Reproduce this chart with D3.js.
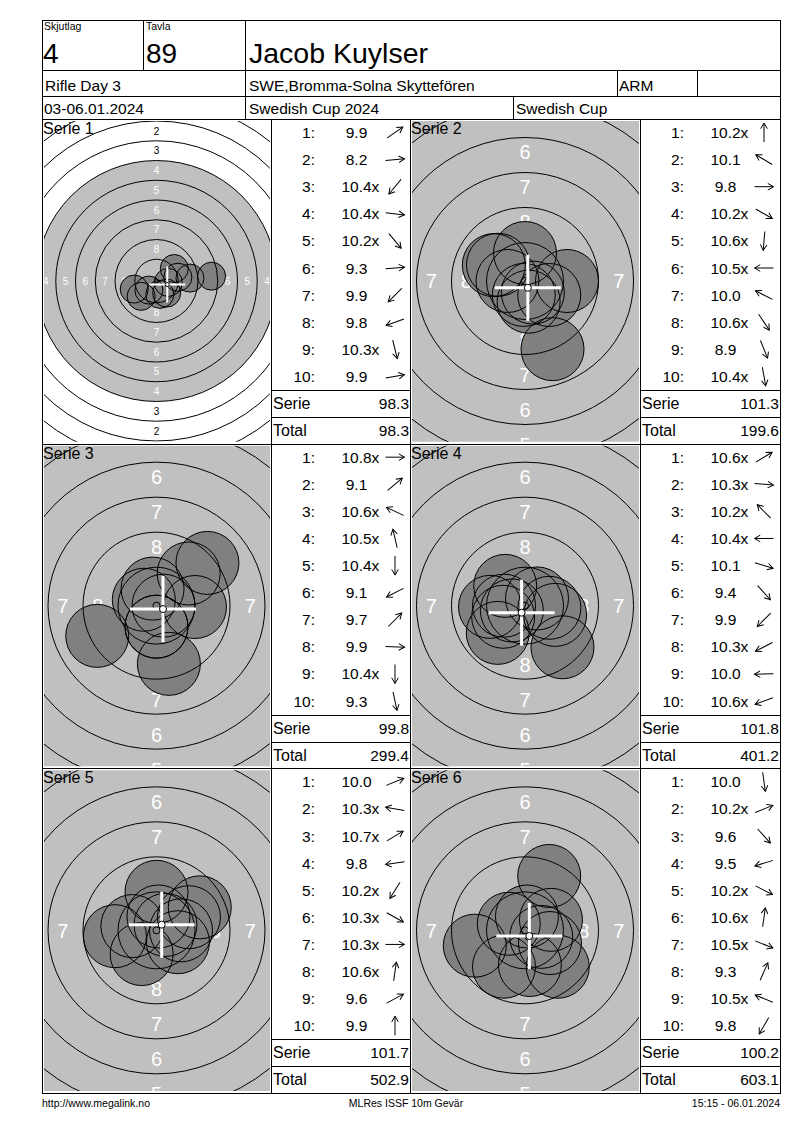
<!DOCTYPE html>
<html>
<head>
<meta charset="utf-8">
<script src="https://cdn.jsdelivr.net/npm/d3@7"></script>
<style>
  body { margin: 0; background: #fff; }
  svg { font-family: "Liberation Sans", Arial, sans-serif; }
</style>
</head>
<body>
<svg id="card" width="800" height="1130"></svg>
<script>
"use strict";

// header
var squad = "4";
var lane = "89";
var shooter = "Jacob Kuylser";
var eventName = "Rifle Day 3";
var club = "SWE,Bromma-Solna Skyttefören";
var classCode = "ARM";
var dates = "03-06.01.2024";
var competition = "Swedish Cup 2024";
var cupName = "Swedish Cup";
var footer = ["http://www.megalink.no", "MLRes ISSF 10m Gevär", "15:15 - 06.01.2024"];

var serieNames = ["Serie 1", "Serie 2", "Serie 3", "Serie 4", "Serie 5", "Serie 6"];

// decimal score of every shot
var shotScores = [
  [9.9, 8.2, 10.4, 10.4, 10.2, 9.3, 9.9, 9.8, 10.3, 9.9],
  [10.2, 10.1, 9.8, 10.2, 10.6, 10.5, 10.0, 10.6, 8.9, 10.4],
  [10.8, 9.1, 10.6, 10.5, 10.4, 9.1, 9.7, 9.9, 10.4, 9.3],
  [10.6, 10.3, 10.2, 10.4, 10.1, 9.4, 9.9, 10.3, 10.0, 10.6],
  [10.0, 10.3, 10.7, 9.8, 10.2, 10.3, 10.3, 10.6, 9.6, 9.9],
  [10.0, 10.2, 9.6, 9.5, 10.2, 10.6, 10.5, 9.3, 10.5, 9.8]
];

// direction of every hit, degrees clockwise from 12 o'clock
var shotDirs = [
  [55, 85, 220, 97, 140, 85, 225, 250, 166, 80],
  [0, 301, 90, 120, 185, 270, 297, 146, 158, 170],
  [90, 50, 295, 347, 180, 243, 45, 92, 180, 168],
  [59, 95, 315, 270, 107, 138, 225, 243, 268, 250],
  [68, 280, 59, 262, 212, 119, 90, 8, 62, 0],
  [172, 68, 138, 253, 117, 8, 112, 24, 292, 210]
];

var ringNumbers = [1, 2, 3, 4, 5, 6, 7, 8, 9, 10];
var labelRings = [1, 2, 3, 4, 5, 6, 7, 8];

var svg = d3.select('#card');
var INK = '#000';
var GREY = '#c0c0c0';
var HIT = '#808080';

// ISSF 10m rifle target, mm
function ringRadius(n) { return 0.25 + (10 - n) * 2.5; }
function hitDistance(score) { return Math.max(0, (11 - score) * 2.5); }

var top0 = 119, bottom0 = 1093, left0 = 42, right0 = 780;
var blockH = (bottom0 - top0) / 3;
var targetX = [42, 410], targetW = [229, 230];
var tableX = [271, 640], tableW = [139, 140];

var lines = svg.append('g').attr('stroke', INK).attr('stroke-width', 1).attr('shape-rendering', 'crispEdges');
function hline(x1, x2, y) { lines.append('line').attr('x1', x1).attr('x2', x2).attr('y1', Math.round(y) + 0.5).attr('y2', Math.round(y) + 0.5); }
function vline(x, y1, y2) { lines.append('line').attr('x1', x + 0.5).attr('x2', x + 0.5).attr('y1', y1).attr('y2', y2); }

function txt(g, x, y, s, size, anchor) {
  return g.append('text').attr('x', x).attr('y', y).attr('font-size', size)
    .attr('text-anchor', anchor || 'start').attr('fill', INK).text(s);
}

// ---- header ----
var head = svg.append('g');
txt(head, 44, 30, "Skjutlag", 10.5);
txt(head, 146, 30, "Tavla", 10.5);
txt(head, 43, 63, squad, 28);
txt(head, 146, 63, lane, 28);
txt(head, 249, 63, shooter, 28.5);
txt(head, 45, 91, eventName, 15.5);
txt(head, 249, 91, club, 15.5);
txt(head, 619, 91, classCode, 15.5);
txt(head, 44, 114, dates, 15.5);
txt(head, 249, 114, competition, 15.5);
txt(head, 516, 114, cupName, 15.5);

// ---- series ----
var defs = svg.append('defs');
var runningTotal = 0;

serieNames.forEach(function (name, i) {
  var row = Math.floor(i / 2), col = i % 2;
  var y0 = top0 + row * blockH;
  var bx = targetX[col], bw = targetW[col];
  var cx = bx + bw / 2, cy = y0 + 162;
  var overview = i === 0;
  var k = overview ? 7.9 : 14;         // px per mm
  var hitR = overview ? 14 : 31.5;
  var crossHalf = overview ? 18 : 33;

  var xS = d3.scaleLinear().domain([-30, 30]).range([cx - 30 * k, cx + 30 * k]);
  var yS = d3.scaleLinear().domain([-30, 30]).range([cy + 30 * k, cy - 30 * k]);
  var rS = d3.scaleLinear().domain([0, 30]).range([0, 30 * k]);

  defs.append('clipPath').attr('id', 'clip' + i)
    .append('rect').attr('x', bx + 2).attr('y', y0 + 2).attr('width', bw - 3).attr('height', blockH - 4);

  var tg = svg.append('g').attr('clip-path', 'url(#clip' + i + ')');

  tg.append('circle').attr('cx', xS(0)).attr('cy', yS(0)).attr('r', rS(ringRadius(4))).attr('fill', GREY);

  // ring numbers on four sides, only those that reach into the box
  var lab = [];
  labelRings.forEach(function (n) {
    var m = (ringRadius(n) + ringRadius(n + 1)) / 2 + (overview ? 0 : 0.2);
    [[0, m], [0, -m], [-m, 0], [m, 0]].forEach(function (p) { lab.push({n: n, x: p[0], y: p[1]}); });
  });
  lab = lab.filter(function (d) {
    var px = xS(d.x), py = yS(d.y);
    return px > bx && px < bx + bw && py > y0 && py < y0 + blockH + 5;
  });
  tg.selectAll('text.ring').data(lab).enter().append('text')
    .attr('class', 'ring')
    .attr('x', function (d) { return xS(d.x); })
    .attr('y', function (d) { return yS(d.y); })
    .attr('dy', '0.36em')
    .attr('text-anchor', 'middle')
    .attr('font-size', overview ? 10 : 20)
    .attr('fill', function (d) { return d.n >= 4 ? '#fff' : INK; })
    .text(function (d) { return d.n; });

  var hits = shotScores[i].map(function (s, j) {
    var d = hitDistance(s), a = shotDirs[i][j] * Math.PI / 180;
    return {x: d * Math.sin(a), y: d * Math.cos(a)};
  });

  tg.selectAll('circle.fill').data(hits).enter().append('circle')
    .attr('class', 'fill')
    .attr('cx', function (d) { return xS(d.x); })
    .attr('cy', function (d) { return yS(d.y); })
    .attr('r', hitR).attr('fill', HIT);

  tg.selectAll('circle.ringline').data(ringNumbers).enter().append('circle')
    .attr('class', 'ringline')
    .attr('cx', xS(0)).attr('cy', yS(0))
    .attr('r', function (n) { return rS(ringRadius(n)); })
    .attr('fill', 'none').attr('stroke', INK).attr('stroke-width', 1);

  tg.selectAll('circle.edge').data(hits).enter().append('circle')
    .attr('class', 'edge')
    .attr('cx', function (d) { return xS(d.x); })
    .attr('cy', function (d) { return yS(d.y); })
    .attr('r', hitR).attr('fill', 'none').attr('stroke', INK).attr('stroke-width', 1);

  // mean point of impact
  var mx = xS(d3.mean(hits, function (d) { return d.x; }));
  var my = yS(d3.mean(hits, function (d) { return d.y; }));
  var cw = overview ? 2 : 3;
  tg.append('line').attr('x1', mx - crossHalf).attr('x2', mx + crossHalf).attr('y1', my).attr('y2', my)
    .attr('stroke', '#fff').attr('stroke-width', cw);
  tg.append('line').attr('x1', mx).attr('x2', mx).attr('y1', my - crossHalf).attr('y2', my + crossHalf)
    .attr('stroke', '#fff').attr('stroke-width', cw);
  tg.append('circle').attr('cx', mx).attr('cy', my).attr('r', overview ? 2 : 3.5)
    .attr('fill', '#fff').attr('stroke', INK).attr('stroke-width', 1);

  txt(svg, bx + 1, y0 + 15, name, 16);

  // ---- score table ----
  var tx = tableX[col], tw = tableW[col];
  var rowH = 27.1;
  var tb = svg.append('g');
  shotScores[i].forEach(function (s, j) {
    var yc = y0 + 13.5 + rowH * j;
    var base = yc + 5.5;
    txt(tb, tx + 44, base, (j + 1) + ":", 15.5, 'end');
    var num = txt(tb, tx + 85.5, base, s.toFixed(1), 15.5, 'middle');
    if (s >= 10.2) {
      var w = num.node().getComputedTextLength();
      txt(tb, tx + 85.5 + w / 2, base, "x", 15.5);
    }
    var ar = tb.append('g')
      .attr('transform', 'translate(' + (tx + 124) + ',' + yc + ') rotate(' + shotDirs[i][j] + ')')
      .attr('stroke', INK).attr('stroke-width', 1).attr('fill', 'none');
    ar.append('line').attr('x1', 0).attr('y1', 9.5).attr('x2', 0).attr('y2', -9.5);
    ar.append('path').attr('d', 'M-3.3,-3.8L0,-9.5L3.3,-3.8');
  });
  var serieSum = d3.sum(shotScores[i]);
  runningTotal += serieSum;
  var ySerie = y0 + 10 * rowH;
  hline(tx, tx + tw, ySerie);
  hline(tx, tx + tw, ySerie + 27);
  txt(tb, tx + 2, ySerie + 19, "Serie", 16);
  txt(tb, tx + tw - 1, ySerie + 19, serieSum.toFixed(1), 15.5, 'end');
  txt(tb, tx + 2, ySerie + 46, "Total", 16);
  txt(tb, tx + tw - 1, ySerie + 46, runningTotal.toFixed(1), 15.5, 'end');
});

// ---- frame ----
lines.append('rect').attr('x', left0 + 0.5).attr('y', 20.5).attr('width', right0 - left0).attr('height', bottom0 - 20)
  .attr('fill', 'none');
hline(left0, right0, 70);
hline(left0, right0, 96);
hline(left0, right0, top0);
hline(left0, right0, top0 + blockH);
hline(left0, right0, top0 + 2 * blockH);
vline(143, 20, 70);
vline(245, 20, top0);
vline(617, 70, 96);
vline(697, 70, 96);
vline(513, 96, top0);
[271, 410, 640].forEach(function (x) { vline(x, top0, bottom0); });
lines.raise();

// ---- footer ----
var ft = svg.append('g');
txt(ft, 42, 1107, footer[0], 10.5);
txt(ft, 406, 1107, footer[1], 10.5, 'middle');
txt(ft, 780, 1107, footer[2], 10.5, 'end');
</script>
</body>
</html>
